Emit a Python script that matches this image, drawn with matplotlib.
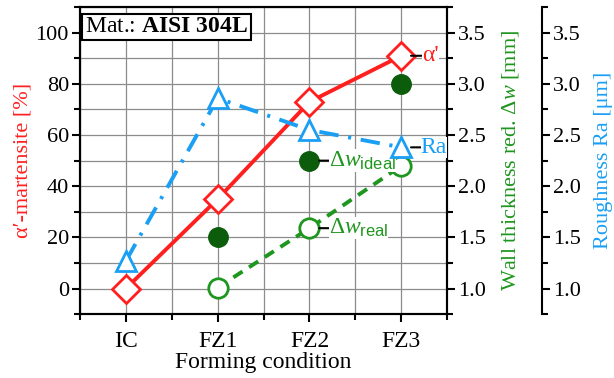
import matplotlib
matplotlib.use("Agg")
import matplotlib.pyplot as plt
from matplotlib.ticker import MultipleLocator

plt.rcParams['font.family'] = ['Liberation Serif', 'DejaVu Serif']
plt.rcParams['mathtext.fontset'] = 'custom'
plt.rcParams['mathtext.rm'] = 'Liberation Serif'
plt.rcParams['mathtext.it'] = 'Liberation Serif:italic'
plt.rcParams['mathtext.bf'] = 'Liberation Serif:bold'
plt.rcParams['mathtext.sf'] = 'Liberation Sans'

# data
conditions = ['IC', 'FZ1', 'FZ2', 'FZ3']
martensite = [0, 35, 73, 91]            # %
ra = [1.27, 2.86, 2.55, 2.38]           # um
dw_ideal = [None, 1.5, 2.25, 3.0]       # mm
dw_real = [None, 1.01, 1.59, 2.2]       # mm

red = '#ff1f1f'
blue = '#1a9ff5'
dgreen = '#0b5c0b'
green = '#1f961f'

x = list(range(len(conditions)))

fig = plt.figure(figsize=(6.14, 3.78), dpi=100)
ax = fig.add_axes([0.1303, 0.169, 0.598, 0.812])
ax2 = ax.twinx()
ax3 = ax.twinx()
ax3.spines['right'].set_position(('axes', 1.259))
for s in ['left', 'top', 'bottom']:
    ax3.spines[s].set_visible(False)

# grid on primary axis
ax.set_xlim(-0.5, 3.5)
ax.set_ylim(-10, 110)
ax.xaxis.set_minor_locator(MultipleLocator(0.5))
ax.yaxis.set_major_locator(MultipleLocator(20))
ax.yaxis.set_minor_locator(MultipleLocator(10))
ax.grid(True, which='both', color='#8c8c8c', lw=0.9, zorder=0)
ax.set_axisbelow(True)

# alpha' martensite
ax.plot(x, martensite, '-', color=red, lw=2.8, marker='D', ms=14, mfc='white',
        mec=red, mew=2, zorder=3)

# wall thickness reduction
xi = [i for i, v in zip(x, dw_ideal) if v is not None]
vi = [v for v in dw_ideal if v is not None]
ax2.plot(xi, vi, 'o', color=dgreen, ms=14, zorder=3)
xr = [i for i, v in zip(x, dw_real) if v is not None]
vr = [v for v in dw_real if v is not None]
ax2.plot(xr, vr, '--', color=green, lw=2.8, dashes=(2.8, 2.0), marker='o', ms=14,
         mfc='white', mec=green, mew=2, zorder=3)

# roughness
ax3.plot(x, ra, '-.', color=blue, lw=2.8, dashes=(5, 2.5, 0.8, 2.5), marker='^', ms=15,
         mfc='white', mec=blue, mew=2, zorder=3)

for a in (ax2, ax3):
    a.set_ylim(0.75, 3.75)
    a.yaxis.set_major_locator(MultipleLocator(0.5))
    a.yaxis.set_minor_locator(MultipleLocator(0.25))
    a.yaxis.set_major_formatter(matplotlib.ticker.FormatStrFormatter('%.1f'))

for a in (ax, ax2, ax3):
    for s in a.spines.values():
        s.set_linewidth(1.5)
    a.tick_params(which='major', length=6, width=1.5, labelsize=16, direction='out', pad=2)
    a.tick_params(which='minor', length=4, width=1.5, direction='out')

ax.set_xticks(x)
ax.set_xticklabels(conditions)
ax.tick_params(axis='x', pad=6, labelsize=17)

ax.set_ylabel("α′-martensite [%]", color=red, fontsize=16, labelpad=2)
ax.set_xlabel("Forming condition", fontsize=17, labelpad=0)
ax2.set_ylabel(r"Wall thickness red. $\Delta w$ [mm]", color=green, fontsize=16, labelpad=10)
ax3.set_ylabel("Roughness Ra [μm]", color=blue, fontsize=16, labelpad=9)

ax.text(0.013, 0.97, r"Mat.: $\mathbf{AISI\ 304L}$", transform=ax.transAxes,
        fontsize=17, va='top', ha='left', zorder=6,
        bbox=dict(boxstyle='square,pad=0.12', fc='white', ec='black', lw=1.5))

# inline labels
def tag(a, xv, yv, s, col, dx):
    a.annotate(s, xy=(xv, yv), xytext=(dx, 0), textcoords='offset points',
               va='center', ha='left', color=col, fontsize=17, zorder=8,
               bbox=dict(boxstyle='square,pad=0.0', fc='white', ec='none'),
               arrowprops=dict(arrowstyle='-', color='black', lw=1.5,
                               shrinkA=0, shrinkB=7))

tag(ax, 3, martensite[3], "α'", red, 15)
tag(ax3, 3, ra[3], "Ra", blue, 14)
tag(ax2, 2, dw_ideal[2], r"$\Delta w_{\mathsf{ideal}}$", green, 14)
tag(ax2, 2, dw_real[2], r"$\Delta w_{\mathsf{real}}$", green, 14)

fig.savefig("out.png", dpi=100)
